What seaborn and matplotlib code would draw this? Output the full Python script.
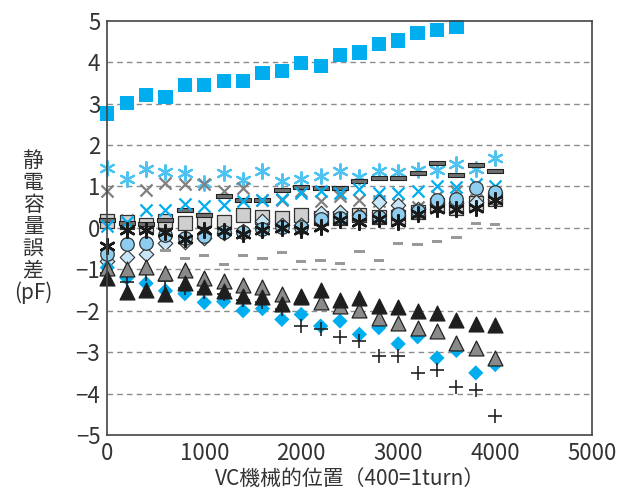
import numpy as np
import pandas as pd
import matplotlib
matplotlib.use("Agg")
import matplotlib.pyplot as plt
import seaborn as sns

sns.set_style("white")
plt.rcParams['font.family'] = ['Noto Sans CJK JP', 'DejaVu Sans']

# VC mechanical position, every 200 steps
pos = [0, 200, 400, 600, 800, 1000, 1200, 1400, 1600, 1800, 2000,
       2200, 2400, 2600, 2800, 3000, 3200, 3400, 3600, 3800, 4000]

blue_square = [2.76, 3.02, 3.21, 3.16, 3.44, 3.44, 3.55, 3.55, 3.73, 3.79,
               3.98, 3.91, 4.17, 4.23, 4.44, 4.52, 4.71, 4.77, 4.85]
lb_asterisk = [1.45, 1.19, 1.41, 1.35, 1.33, 1.09, 1.33, 1.15, 1.36, 1.13, 1.19,
               1.25, 1.37, 1.23, 1.37, 1.35, 1.40, 1.39, 1.55, 1.43, 1.69]
gray_x = [0.89, 0.18, 0.92, 1.09, 1.06, 1.06, 0.90, 0.97, 0.66, 0.68, 0.88,
          0.65, 0.76, 0.68, 0.65, 0.58, 0.50, 0.78, 0.88, 0.66, 0.74]
blue_x = [0.05, 0.15, 0.44, 0.44, 0.58, 0.52, 0.54, 0.64, 0.66, 0.70, 0.85,
          0.90, 0.85, 0.94, 0.84, 0.84, 0.90, 1.02, 0.98, 1.06, 1.02]
dark_bar = [0.18, 0.12, 0.10, 0.18, 0.42, 0.30, 0.76, 0.66, 0.68, 0.92, 0.98,
            0.96, 0.96, 1.12, 1.21, 1.21, 1.32, 1.57, 1.28, 1.51, 1.36]
gray_square = [0.16, 0.14, 0.08, 0.16, 0.11, 0.19, 0.14, 0.30, 0.27, 0.24, 0.30,
               0.24, 0.24, 0.30, 0.27, 0.27, 0.38, 0.54, 0.48, 0.60, 0.70]
black_asterisk = [-0.43, -0.06, -0.06, -0.09, -0.27, -0.05, -0.08, -0.15, -0.05, 0.0, -0.06,
                  0.02, 0.18, 0.14, 0.22, 0.14, 0.34, 0.46, 0.46, 0.48, 0.66]
lb_circle = [-0.63, -0.40, -0.37, -0.17, -0.24, -0.19, -0.10, -0.10, -0.02, 0.02, 0.02,
             0.22, 0.24, 0.27, 0.27, 0.34, 0.40, 0.66, 0.69, 0.95, 0.86]
pale_diamond = [-0.80, -0.70, -0.62, -0.37, -0.35, -0.24, -0.12, -0.08, 0.16, 0.06, 0.08,
                0.36, 0.38, 0.30, 0.62, 0.55, 0.45, 0.58, 0.60, 0.62, 0.70]
gray_dash_pos = pos[3:]
gray_dash = [-0.54, -0.75, -0.67, -0.89, -0.67, -0.75, -0.59, -0.82, -0.78,
             -0.86, -0.57, -0.78, -0.38, -0.41, -0.33, -0.23, 0.11, 0.08]
gray_tri = [-0.97, -1.00, -0.94, -1.08, -1.02, -1.21, -1.28, -1.38, -1.44, -1.60, -1.65,
            -1.80, -1.88, -1.99, -2.18, -2.29, -2.42, -2.50, -2.77, -2.91, -3.15]
black_tri = [-1.20, -1.54, -1.50, -1.59, -1.33, -1.44, -1.52, -1.64, -1.67, -1.83, -1.66,
             -1.50, -1.75, -1.70, -1.88, -1.91, -2.00, -2.05, -2.23, -2.33, -2.35]
blue_diamond = [-0.96, -1.21, -1.34, -1.52, -1.59, -1.80, -1.78, -2.00, -1.95, -2.21, -2.09,
                -2.37, -2.25, -2.57, -2.41, -2.80, -2.63, -3.14, -2.96, -3.50, -3.30]
black_plus = [-1.10, -1.30, -1.12, -1.28, -1.45, -1.56, -1.60, -1.75, -1.80, -1.96, -2.37,
              -2.45, -2.63, -2.73, -3.09, -3.09, -3.51, -3.43, -3.85, -3.92, -4.55]

bar_marker = [(-1, -0.3), (1, -0.3), (1, 0.3), (-1, 0.3), (-1, -0.3)]
asterisk = (6, 2, 0)

fig = plt.figure(figsize=(6.22, 4.91), dpi=100)
ax = fig.add_axes([0.1725, 0.114, 0.7795, 0.844])

def pts(xs, ys, **kw):
    sns.scatterplot(x=xs, y=ys, ax=ax, legend=False, clip_on=False, **kw)

pts(pos[:len(blue_square)], blue_square, marker='s', s=105, color='#00aeef', edgecolor='none')
pts(pos, lb_asterisk, marker=asterisk, s=110, color='#4ec3f2', linewidth=1.6)
pts(pos, gray_x, marker='x', s=75, color='#808080', linewidth=1.6)
pts(pos, gray_square, marker='s', s=95, color='#cfcfcf', edgecolor='#333333', linewidth=0.9)
pts(pos, dark_bar, marker=bar_marker, s=130, color='#707070', edgecolor='#222222', linewidth=0.8)
pts(pos, blue_x, marker='x', s=75, color='#00aeef', linewidth=1.6)
pts(pos, pale_diamond, marker='D', s=55, color='#c6e6f7', edgecolor='#333333', linewidth=0.8)
pts(pos, lb_circle, marker='o', s=95, color='#8dcdef', edgecolor='#333333', linewidth=0.9)
pts(pos, black_asterisk, marker=asterisk, s=110, color='#1a1a1a', linewidth=1.8)
pts(gray_dash_pos, gray_dash, marker=bar_marker, s=55, color='#999999', edgecolor='none')
pts(pos, blue_diamond, marker='D', s=60, color='#00aeef', edgecolor='none')
pts(pos, black_plus, marker='+', s=110, color='#222222', linewidth=1.2)
pts(pos, gray_tri, marker='^', s=115, color='#8a8a8a', edgecolor='#222222', linewidth=0.9)
pts(pos, black_tri, marker='^', s=115, color='#1f1f1f', edgecolor='#1f1f1f', linewidth=0.9)

ax.set_xlim(0, 5000)
ax.set_ylim(-5, 5)
ax.set_xticks(range(0, 5001, 1000))
ax.set_yticks(range(-5, 6))
ax.set_yticklabels([str(v).replace('-', '\u2212') for v in range(-5, 6)])
for v in range(-4, 5):
    ax.axhline(v, color='#8c8c8c', linestyle=(0, (4, 3)), linewidth=1.0, zorder=0)
for sp in ax.spines.values():
    sp.set_color('#444444')
    sp.set_linewidth(1.2)
ax.tick_params(axis='both', direction='in', length=5, width=1, color='#444444',
               labelsize=16, labelcolor='#333333', pad=5)

ax.set_xlabel('VC機械的位置（400=1turn）', fontsize=15, color='#333333', labelpad=2)
fig.text(33 / 622, 1 - 227 / 491, '静\n電\n容\n量\n誤\n差\n(pF)', fontsize=15,
         color='#333333', ha='center', va='center', linespacing=1.0)

fig.savefig('out.png', dpi=100)
